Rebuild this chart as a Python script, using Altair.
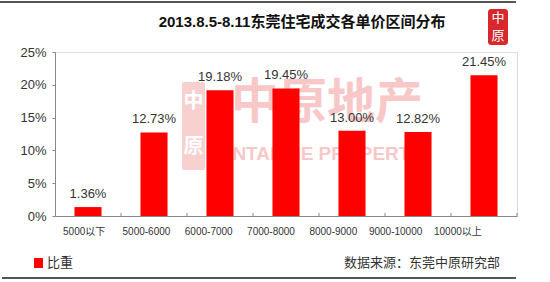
import altair as alt
import pandas as pd

categories = ["5000以下", "5000-6000", "6000-7000", "7000-8000", "8000-9000", "9000-10000", "10000以上"]
values = [1.36, 12.73, 19.18, 19.45, 13.00, 12.82, 21.45]
value_labels = ["1.36%", "12.73%", "19.18%", "19.45%", "13.00%", "12.82%", "21.45%"]
title_text = "2013.8.5-8.11东莞住宅成交各单价区间分布"
legend_text = "比重"
source_text = "数据来源：东莞中原研究部"
y_ticks = [0, 5, 10, 15, 20, 25]

FONT = "Liberation Sans, Noto Sans CJK SC"
W, H = 462, 164

df = pd.DataFrame({"cat": categories, "val": values, "lab": value_labels})
one = pd.DataFrame({"k": [0]})


def txt(s, x, y, **kw):
    return alt.Chart(pd.DataFrame({"t": [s]})).mark_text(font=FONT, **kw).encode(
        text="t:N", x=alt.value(x), y=alt.value(y))


xscale = alt.Scale(domain=categories, paddingInner=0.59, paddingOuter=0.295)
yscale = alt.Scale(domain=[0, 25], nice=False)

# watermark
wm_block = alt.Chart(one).mark_rect(color="#f9d0d0", cornerRadius=2).encode(
    x=alt.value(127), x2=alt.value(150), y=alt.value(30), y2=alt.value(118))
wm_l1 = txt("中", 138.5, 50, fontSize=20, color="#ffffff", fontWeight="bold")
wm_l2 = txt("原", 138.5, 95, fontSize=20, color="#ffffff", fontWeight="bold")
wm_cn = txt("中原地产", 176, 52, fontSize=48, fontWeight="bold", color="#f8c8c8",
            align="left", baseline="middle")
wm_en = txt("CENTALINE PROPERTY", 151, 102, fontSize=19, fontWeight="bold", color="#f8c8c8",
            align="left", baseline="middle")

bars = alt.Chart(df).mark_bar(color="#ff0000").encode(
    x=alt.X("cat:N", scale=xscale, sort=categories,
            axis=alt.Axis(labels=False, ticks=False, title=None, domainColor="#888888", domainWidth=1)),
    y=alt.Y("val:Q", scale=yscale,
            axis=alt.Axis(values=y_ticks, labelExpr="datum.value + '%'", title=None, grid=False,
                          labelOverlap=False, tickCount=6,
                          domainColor="#888888", tickColor="#888888", tickSize=3, labelPadding=6,
                          labelFont=FONT, labelFontSize=13, labelColor="#333333")),
)
texts = alt.Chart(df).mark_text(font=FONT, fontSize=13, color="#333333", baseline="bottom", dy=-6).encode(
    x=alt.X("cat:N", scale=xscale, sort=categories),
    y=alt.Y("val:Q", scale=yscale),
    text="lab:N",
)
ticks = alt.Chart(df).mark_rule(color="#888888", xOffset=33).encode(
    x=alt.X("cat:N", scale=xscale, sort=categories),
    y=alt.value(H), y2=alt.value(H - 3),
)
main = alt.layer(bars, texts, ticks)

xlabels = alt.Chart(df).mark_text(font=FONT, fontSize=10, color="#333333", baseline="middle").encode(
    x=alt.X("cat:N", sort=categories, scale=alt.Scale(domain=categories, range=[-2, 434],
                                                       paddingInner=0, paddingOuter=0), axis=None),
    y=alt.value(180),
    text="cat:N",
)

title = txt(title_text, 247, -30, fontSize=15, fontWeight="bold", color="#111111")
logo_box = alt.Chart(one).mark_rect(color="#d8282c", cornerRadius=3).encode(
    x=alt.value(433), x2=alt.value(453), y=alt.value(-43), y2=alt.value(-7))
logo_1 = txt("中", 443, -34, fontSize=13, color="#ffffff")
logo_2 = txt("原", 443, -16, fontSize=13, color="#ffffff")
leg_box = alt.Chart(one).mark_rect(color="#ff0000").encode(
    x=alt.value(-21), x2=alt.value(-12), y=alt.value(206), y2=alt.value(216))
leg_txt = txt(legend_text, -8, 211, fontSize=13, color="#333333", align="left")
src_txt = txt(source_text, 445, 211, fontSize=13, color="#333333", align="right")
top_line = alt.Chart(one).mark_rule(color="#555555", strokeWidth=2).encode(
    x=alt.value(-55), x2=alt.value(461), y=alt.value(-50))
bot_line = alt.Chart(one).mark_rule(color="#555555", strokeWidth=2).encode(
    x=alt.value(-53), x2=alt.value(461), y=alt.value(226))

chart = alt.layer(
    wm_block, wm_l1, wm_l2, wm_cn, wm_en, main, xlabels,
    title, logo_box, logo_1, logo_2, leg_box, leg_txt, src_txt, top_line, bot_line,
).resolve_scale(x="independent").properties(
    width=W, height=H,
    autosize=alt.AutoSizeParams(type="none"),
    padding={"left": 55, "top": 52, "right": 33, "bottom": 66},
).configure_view(stroke=None).configure(background="#ffffff")

chart.save("out.html", embed_options={"renderer": "svg", "actions": False})
